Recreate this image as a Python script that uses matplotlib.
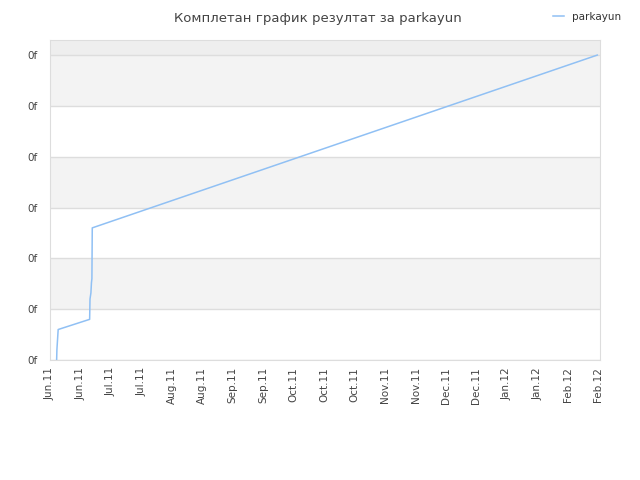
import datetime as dt

import matplotlib
matplotlib.use("Agg")
import matplotlib.pyplot as plt
import matplotlib.dates as mdates
from matplotlib.ticker import FuncFormatter

# score history for the player (timestamps)
times = [
    "2011-06-15 02:00", "2011-06-15 05:00", "2011-06-15 19:00",
    "2011-06-30 06:00", "2011-06-30 10:00", "2011-06-30 20:00",
    "2011-07-01 02:00", "2011-07-01 07:00", "2011-07-01 11:00",
    "2012-02-18 12:00",
]
scores = [0.0, 0.2, 0.6, 0.8, 1.2, 1.32, 1.52, 1.6, 2.6, 6.0]
series_name = "parkayun"
title = "Комплетан график резултат за parkayun"

# x ticks every two weeks
tick_start = dt.datetime(2011, 6, 12)
tick_count = 19
tick_step_days = 14
y_ticks = [0, 1, 2, 3, 4, 5, 6]

dates = [dt.datetime.strptime(t, "%Y-%m-%d %H:%M") for t in times]
xticks = [tick_start + dt.timedelta(days=tick_step_days * i) for i in range(tick_count)]

fig = plt.figure(figsize=(6.4, 4.8), dpi=100)
ax = fig.add_axes([0.078, 0.25, 0.86, 0.667])

# alternating bands
for lo in y_ticks:
    if lo % 2 == 1:
        ax.axhspan(lo, lo + 1, color="#f3f3f3", zorder=0, lw=0)
ax.axhspan(6, 6.3, color="#eeeeee", zorder=0, lw=0)
for y in y_ticks:
    ax.axhline(y, color="#dddddd", lw=1, zorder=1)

ax.plot(dates, scores, color="#90c0f4", lw=1.1, zorder=3, label=series_name)

ax.set_ylim(0, 6.3)
ax.set_xlim(tick_start, tick_start + dt.timedelta(days=252.9))
ax.set_yticks(y_ticks)
ax.yaxis.set_major_formatter(FuncFormatter(lambda v, p: "0f"))
ax.set_xticks(xticks)
ax.xaxis.set_major_formatter(mdates.DateFormatter("%b.%y"))
ax.tick_params(axis="x", rotation=90, labelsize=7.5, colors="#444444", length=0, pad=5)
ax.tick_params(axis="y", labelsize=7.5, colors="#444444", length=0, pad=9)
for s in ax.spines.values():
    s.set_color("#dddddd")

fig.text(0.497, 0.975, title, ha="center", va="top", fontsize=9.5, color="#444444")
leg = fig.legend(loc="upper right", bbox_to_anchor=(0.985, 0.995), frameon=False,
                 fontsize=7.5, handlelength=1.0, handletextpad=0.8)
for t in leg.get_texts():
    t.set_color("#333333")

fig.savefig("out.png", dpi=100)
